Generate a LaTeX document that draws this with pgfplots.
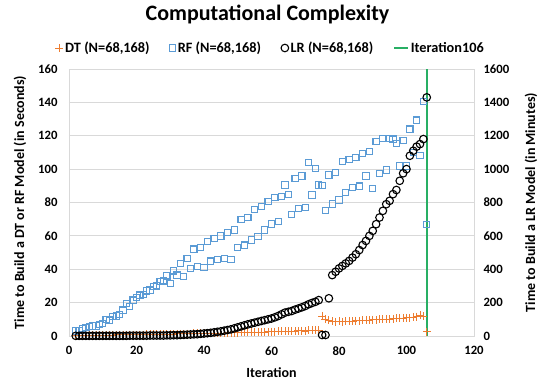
\documentclass[border=0pt]{standalone}
\usepackage{pgfplots}
\pgfplotsset{compat=1.18}
\usepackage{fontspec}
\setmainfont{Carlito}
\definecolor{dtc}{RGB}{237,125,49}
\definecolor{rfc}{RGB}{91,155,213}
\definecolor{grn}{RGB}{40,175,100}
\definecolor{gridc}{RGB}{217,217,217}
\begin{document}
\begin{tikzpicture}
\useasboundingbox (-69pt,-48pt) rectangle (470pt,336pt);
\pgfplotsset{
 common/.style={
  scale only axis, width=405pt, height=267pt,
  xmin=0, xmax=120,
  /pgf/number format/assume math mode=true,
  /pgf/number format/1000 sep={},
  tick label style={font=\bfseries\fontsize{12.7}{14}\selectfont},
  label style={font=\bfseries\fontsize{14}{16}\selectfont},
  major tick length=0pt, tick style={draw=none},
  axis line style={gridc, line width=0.8pt},
 }
}
\begin{axis}[common,
  ymin=0, ymax=160, ytick={0,20,...,160}, xtick={0,20,...,120},
  ymajorgrids, grid style={gridc, line width=0.8pt},
  xlabel={Iteration},
  ylabel={Time to Build a DT or RF Model (in Seconds)},
  xlabel style={at={(axis description cs:0.5,0)}, anchor=center, yshift=-37pt},
  ylabel style={at={(axis description cs:0,0.5)}, anchor=center, yshift=49pt},
  xticklabel style={yshift=-7pt},
  yticklabel style={xshift=-8pt},
  title={Computational Complexity},
  title style={font=\bfseries\fontsize{22}{26}\selectfont, at={(axis description cs:0.5,1)}, anchor=center, yshift=49pt, xshift=-4pt},
  legend style={at={(axis description cs:0.5,1)}, anchor=center, yshift=21pt, xshift=-1pt, draw=none, fill=none,
    legend columns=4, font=\bfseries\fontsize{14.3}{16}\selectfont,
    /tikz/every even column/.append style={column sep=18pt}},
  legend image code/.code={\draw[mark repeat=2,mark phase=2,#1] plot coordinates {(0pt,0pt) (7pt,0pt) (14pt,0pt)};},
]
\addplot[only marks, mark=+, dtc, mark size=4pt, line width=0.9pt] table {
x y
2 0.3
3 0.3
4 0.4
5 0.4
6 0.4
7 0.5
8 0.5
9 0.5
10 0.5
11 0.6
12 0.6
13 0.6
14 0.7
15 0.7
16 0.7
17 0.8
18 0.8
19 0.8
20 0.9
21 0.9
22 0.9
23 1.0
24 1.0
25 1.0
26 1.1
27 1.1
28 1.1
29 1.2
30 1.2
31 1.2
32 1.3
33 1.3
34 1.3
35 1.4
36 1.4
37 1.5
38 1.5
39 1.5
40 1.6
41 1.6
42 1.7
43 1.7
44 1.7
45 1.8
46 1.8
47 1.9
48 1.9
49 2.0
50 2.0
51 2.1
52 2.1
53 2.2
54 2.2
55 2.3
56 2.3
57 2.4
58 2.4
59 2.5
60 2.6
61 2.6
62 2.7
63 2.7
64 2.8
65 2.9
66 3.0
67 2.9
68 3.1
69 3.2
70 3.0
71 3.4
72 3.3
73 3.6
74 3.4
75 12.0
76 10.2
77 9.3
78 8.8
79 8.6
80 8.8
81 8.6
82 8.8
83 9.0
84 8.8
85 9.2
86 9.1
87 9.3
88 9.6
89 9.4
90 9.8
91 9.7
92 10.0
93 9.9
94 10.2
95 10.1
96 10.4
97 10.6
98 10.5
99 10.8
100 11.0
101 10.9
102 11.3
103 11.6
104 12.3
105 11.8
106 2.5
};
\addlegendentry{DT (N=68,168)}
\addplot[only marks, mark=square, rfc, mark size=3.1pt, line width=1.1pt] table {
x y
2 3
3 3.5
4 4.5
5 5
6 5.5
7 6
8 6
9 7
10 7.5
11 10
12 9.5
13 11.5
14 12
15 13
16 15.5
17 19.5
18 17.5
19 21.5
20 23
21 24.5
22 25
23 27
24 27.5
25 29.5
26 30
27 32.5
28 33
29 36
30 31.6
31 39
32 36.5
33 43.5
34 35.5
35 46.5
36 40.6
37 52.1
38 41.5
39 53.1
40 41.2
41 56.5
42 44.9
43 58.5
44 46
45 59.9
46 46.6
47 62.1
48 46
49 63.5
50 52.9
51 69.9
52 54.5
53 70.9
54 57.5
55 75.9
56 59.5
57 77.5
58 63.5
59 80.5
60 67.1
61 83.1
62 68.5
63 83.5
64 90.5
65 84.9
66 72.9
67 94.5
68 76.5
69 95.9
70 77.1
71 103.8
72 84.5
73 100.5
74 90.5
75 90.1
76 75.1
77 96.5
78 79.1
79 97.8
80 81.5
81 104.4
82 85.9
83 105.8
84 89.1
85 107
86 89.8
87 109.4
88 95.9
89 110.4
90 88.5
91 116.4
92 97.5
93 118.5
94 99.5
95 118.5
96 118
97 115.5
98 101.9
99 117
100 101.9
101 124
102 110
103 129.4
104 108
105 140.4
106 67
};
\addlegendentry{RF (N=68,168)}
\addlegendimage{only marks, mark=o, black, mark size=3.8pt, line width=1.1pt}
\addlegendentry{LR (N=68,168)}
\addplot[grn, line width=1.5pt, mark=none] coordinates {(106,0) (106,160)};
\addlegendentry{Iteration106}
\end{axis}
\begin{axis}[common,
  axis x line=none, axis y line*=right,
  ymin=0, ymax=1600, ytick={0,200,...,1600},
  ylabel={Time to Build a LR Model (in Minutes)},
  ylabel style={at={(axis description cs:1,0.5)}, anchor=center, yshift=-57pt},
  yticklabel style={xshift=6pt},
]
\addplot[only marks, mark=o, black, mark size=3.8pt, line width=1.1pt] table {
x y
2 1
3 1
4 1
5 1
6 1
7 1
8 1
9 1
10 1
11 1
12 1
13 1
14 1
15 1
16 1
17 1
18 2
19 2
20 2
21 2
22 2
23 2
24 3
25 3
26 3
27 3
28 3
29 4
30 4
31 5
32 5
33 6
34 7
35 8
36 9
37 10
38 11
39 13
40 15
41 17
42 19
43 22
44 25
45 28
46 32
47 36
48 40
49 46
50 52
51 58
52 64
53 70
54 75
55 80
56 85
57 90
58 95
59 100
60 105
61 112
62 120
63 130
64 140
65 145
66 150
67 158
68 165
69 172
70 180
71 190
72 198
73 205
74 215
75 6
76 6
77 226
78 365
79 385
80 405
81 420
82 435
83 450
84 470
85 490
86 515
87 545
88 570
89 600
90 630
91 670
92 710
93 750
94 790
95 810
96 850
97 875
98 930
99 975
100 1000
101 1080
102 1110
103 1135
104 1150
105 1180
106 1430
};
\end{axis}
\end{tikzpicture}
\end{document}
